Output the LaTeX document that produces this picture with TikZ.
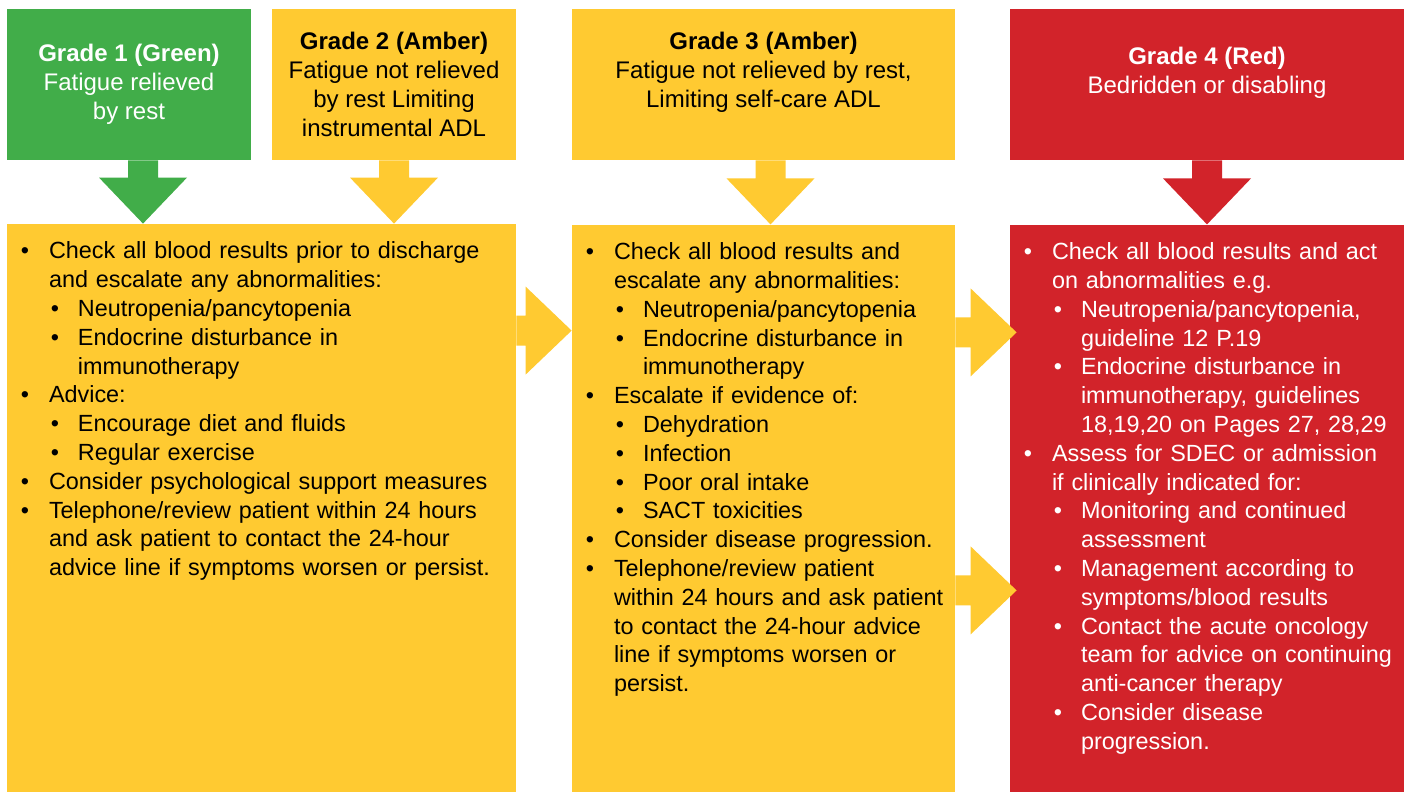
\documentclass[tikz,border=0pt]{standalone}
\usepackage{fontspec}
\setmainfont{Liberation Sans}
\usepackage{enumitem}
\usetikzlibrary{positioning,calc}

\definecolor{gradegreen}{HTML}{41AD49}
\definecolor{gradeamber}{HTML}{FFCA31}
\definecolor{gradered}{HTML}{D2232A}

\setlist[itemize,1]{label=\textbullet, leftmargin=21pt, labelsep=10pt, itemsep=0pt, topsep=0pt, parsep=0pt, partopsep=0pt}
\setlist[itemize,2]{label=\textbullet, leftmargin=14.5pt, labelsep=9.5pt, itemsep=0pt, topsep=0pt, parsep=0pt, partopsep=0pt}

% block arrow: colour, tail, tip
\newcommand{\blockarrow}[3]{%
  \path ($(#3)!23pt!(#2)$) coordinate (hb);
  \fill[#1] ($(#2)!7.5pt!90:(#3)$) -- ($(hb)!7.5pt!90:(#3)$) -- ($(hb)!22pt!90:(#3)$)
    -- (#3) -- ($(hb)!22pt!-90:(#3)$) -- ($(hb)!7.5pt!-90:(#3)$) -- ($(#2)!7.5pt!-90:(#3)$) -- cycle;}

\begin{document}
\begin{tikzpicture}[
    x=0.5pt, y=-0.5pt,
    font=\fontsize{12}{14.4}\selectfont,
    gradebox/.style={rectangle, inner sep=0pt, align=center, minimum height=75.5pt},
    actbox/.style={rectangle, inner sep=0pt, minimum height=284pt},
    actlist/.style={inner sep=0pt, anchor=north west, align=left, font=\fontsize{11.7}{14.4}\selectfont}
]
    \fill[white] (0,0) rectangle (1408,792);
    \useasboundingbox (0,0) rectangle (1408,792);

    % --- Grades ---
    \node[gradebox, fill=gradegreen, text=white, minimum width=122pt] (grade1) at (129,84.5)
        {\textbf{Grade 1 (Green)}\\Fatigue relieved\\by rest};
    \node[gradebox, fill=gradeamber, minimum width=122pt] (grade2) at (394,84.5)
        {\textbf{Grade 2 (Amber)}\\Fatigue not relieved\\by rest Limiting\\instrumental ADL};
    \node[gradebox, fill=gradeamber, minimum width=191.5pt] (grade3) at (763.5,84.5)
        {\textbf{Grade 3 (Amber)}\\Fatigue not relieved by rest,\\Limiting self-care ADL\\~};
    \node[gradebox, fill=gradered, text=white, minimum width=197pt] (grade4) at (1207,84.5)
        {\textbf{Grade 4 (Red)}\\Bedridden or disabling\\~};

    % --- Actions ---
    \node[actbox, fill=gradeamber, minimum width=254.5pt] (act12) at (261.5,508) {};
    \node[actbox, fill=gradeamber, minimum width=191.5pt, below=32pt of grade3] (act3) {};
    \node[actbox, fill=gradered, minimum width=197pt, below=32pt of grade4] (act4) {};

    \node[actlist, text width=265pt] (list12) at ($(act12.north west)+(0,6)$) {%
    \begin{itemize}
    \item Check all blood results prior to discharge\newline and escalate any abnormalities:
      \begin{itemize}
      \item Neutropenia/pancytopenia
      \item Endocrine disturbance in\newline immunotherapy
      \end{itemize}
    \item Advice:
      \begin{itemize}
      \item Encourage diet and fluids
      \item Regular exercise
      \end{itemize}
    \item Consider psychological support measures
    \item Telephone/review patient within 24 hours\newline and ask patient to contact the 24-hour\newline advice line if symptoms worsen or persist.
    \end{itemize}};

    \node[actlist, text width=205pt] (list3) at ($(act3.north west)+(0,6)$) {%
    \begin{itemize}
    \item Check all blood results and\newline escalate any abnormalities:
      \begin{itemize}
      \item Neutropenia/pancytopenia
      \item Endocrine disturbance in\newline immunotherapy
      \end{itemize}
    \item Escalate if evidence of:
      \begin{itemize}
      \item Dehydration
      \item Infection
      \item Poor oral intake
      \item SACT toxicities
      \end{itemize}
    \item Consider disease progression.
    \item Telephone/review patient\newline within 24 hours and ask patient\newline to contact the 24-hour advice\newline line if symptoms worsen or\newline persist.
    \end{itemize}};

    \node[actlist, text width=210pt, text=white] (list4) at ($(act4.north west)+(0,6)$) {%
    \begin{itemize}
    \item Check all blood results and act\newline on abnormalities e.g.
      \begin{itemize}
      \item Neutropenia/pancytopenia,\newline guideline 12 P.19
      \item Endocrine disturbance in\newline immunotherapy, guidelines\newline 18,19,20 on Pages 27, 28,29
      \end{itemize}
    \item Assess for SDEC or admission\newline if clinically indicated for:
      \begin{itemize}
      \item Monitoring and continued\newline assessment
      \item Management according to\newline symptoms/blood results
      \item Contact the acute oncology\newline team for advice on continuing\newline anti-cancer therapy
      \item Consider disease\newline progression.
      \end{itemize}
    \end{itemize}};

    % --- Arrows ---
    \coordinate (d1) at ($(grade1.south)+(14,0)$);
    \coordinate (d1tip) at (d1 |- act12.north);
    \coordinate (d2) at (grade2.south);
    \coordinate (d2tip) at (d2 |- act12.north);
    \coordinate (d3) at ($(grade3.south)+(7,0)$);
    \coordinate (d3tip) at (d3 |- act3.north);
    \coordinate (d4) at (grade4.south);
    \coordinate (d4tip) at (d4 |- act4.north);
    \coordinate (r1) at ($(act12.north east)+(0,107)$);
    \coordinate (r1tip) at (r1 -| act3.west);
    \coordinate (r2) at ($(act3.north east)+(0,108)$);
    \coordinate (r2tip) at ($(r2 -| act4.west)+(7,0)$);
    \coordinate (r3) at ($(act3.north east)+(0,366)$);
    \coordinate (r3tip) at ($(r3 -| act4.west)+(7,0)$);

    \blockarrow{gradegreen}{d1}{d1tip}
    \blockarrow{gradeamber}{d2}{d2tip}
    \blockarrow{gradeamber}{d3}{d3tip}
    \blockarrow{gradered}{d4}{d4tip}
    \blockarrow{gradeamber}{r1}{r1tip}
    \blockarrow{gradeamber}{r2}{r2tip}
    \blockarrow{gradeamber}{r3}{r3tip}
\end{tikzpicture}
\end{document}
